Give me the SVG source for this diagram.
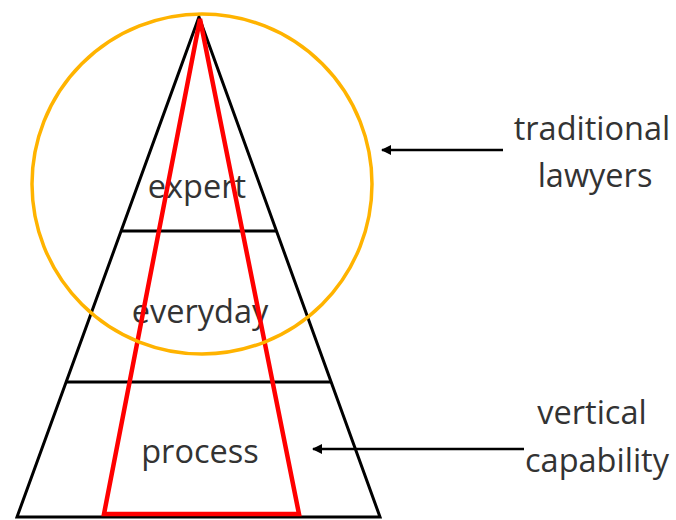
<svg xmlns="http://www.w3.org/2000/svg" width="676" height="520" viewBox="0 0 676 520">
<defs>
<style>
.lbl{font-family:"Open Sans","Liberation Sans",sans-serif;font-size:32.5px;fill:#333;text-anchor:middle}
.blk{stroke:#000;stroke-width:3;fill:none}
.arr{stroke:#000;stroke-width:2.5;fill:none;marker-end:url(#ah)}
</style>
<marker id="ah" viewBox="0 0 10 10" refX="9" refY="5" markerWidth="4" markerHeight="4" orient="auto">
<path d="M0,0 L10,5 L0,10 z" fill="#000"/>
</marker>
</defs>
<rect width="676" height="520" fill="#fff"/>
<g id="pyramid">
<polygon class="blk" points="199,17 380,517 17,517"/>
<line class="blk" x1="121" y1="231" x2="276" y2="231"/>
<line class="blk" x1="66" y1="382" x2="331" y2="382"/>
</g>
<g id="expert"><text class="lbl" x="197" y="198">expert</text></g>
<g id="everyday"><text class="lbl" x="200" y="323">everyday</text></g>
<g id="process"><text class="lbl" x="200" y="463">process</text></g>
<g id="vertical-triangle">
<polygon points="200,19 299,514 104,514" fill="none" stroke="#f00" stroke-width="4.5" stroke-linejoin="miter"/>
</g>
<g id="traditional-circle">
<circle cx="202" cy="184" r="170" fill="none" stroke="#FFB300" stroke-width="3.5"/>
</g>
<g id="traditional-lawyers">
<text class="lbl" x="592" y="140">traditional</text>
<text class="lbl" x="595" y="187">lawyers</text>
</g>
<g id="vertical-capability">
<text class="lbl" x="592" y="424">vertical</text>
<text class="lbl" x="597" y="472">capability</text>
</g>
<g id="connectors">
<line class="arr" x1="503" y1="150" x2="382" y2="150"/>
<line class="arr" x1="524" y1="449" x2="313" y2="449"/>
</g>
</svg>
